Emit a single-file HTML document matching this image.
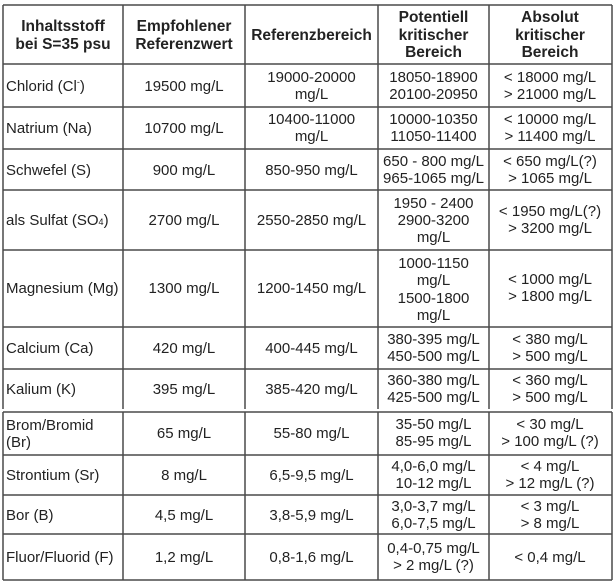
<!DOCTYPE html>
<html><head><meta charset="utf-8"><style>
html,body{margin:0;padding:0;background:#fff;}
svg{display:block;}
text{font-family:"Liberation Sans",Arial,sans-serif;font-size:15px;fill:#222;}
.h{font-weight:bold;font-size:15.5px;}
line{stroke:#4a4a4a;stroke-width:1.5;}
</style></head><body>
<svg width="615" height="584" viewBox="0 0 615 584" xmlns="http://www.w3.org/2000/svg">
<g>
<line x1="3" y1="5" x2="612" y2="5"/>
<line x1="3" y1="64" x2="612" y2="64"/>
<line x1="3" y1="107" x2="612" y2="107"/>
<line x1="3" y1="149" x2="612" y2="149"/>
<line x1="3" y1="190" x2="612" y2="190"/>
<line x1="3" y1="250" x2="612" y2="250"/>
<line x1="3" y1="327" x2="612" y2="327"/>
<line x1="3" y1="369" x2="612" y2="369"/>
<line x1="3" y1="5" x2="3" y2="409"/>
<line x1="123" y1="5" x2="123" y2="409"/>
<line x1="245" y1="5" x2="245" y2="409"/>
<line x1="378" y1="5" x2="378" y2="409"/>
<line x1="489" y1="5" x2="489" y2="409"/>
<line x1="612" y1="5" x2="612" y2="409"/>
</g>
<g>
<line x1="3" y1="412" x2="612" y2="412"/>
<line x1="3" y1="455" x2="612" y2="455"/>
<line x1="3" y1="495" x2="612" y2="495"/>
<line x1="3" y1="534" x2="612" y2="534"/>
<line x1="3" y1="580" x2="612" y2="580"/>
<line x1="3" y1="412" x2="3" y2="580"/>
<line x1="123" y1="412" x2="123" y2="580"/>
<line x1="245" y1="412" x2="245" y2="580"/>
<line x1="378" y1="412" x2="378" y2="580"/>
<line x1="489" y1="412" x2="489" y2="580"/>
<line x1="612" y1="412" x2="612" y2="580"/>
</g>
<g text-anchor="middle">
<text class="h" x="63" y="31">Inhaltsstoff</text>
<text class="h" x="63" y="49">bei S=35 psu</text>
<text class="h" x="184" y="31">Empfohlener</text>
<text class="h" x="184" y="49">Referenzwert</text>
<text class="h" x="311.5" y="40">Referenzbereich</text>
<text class="h" x="433.5" y="22">Potentiell</text>
<text class="h" x="433.5" y="40">kritischer</text>
<text class="h" x="433.5" y="57">Bereich</text>
<text class="h" x="550" y="22">Absolut</text>
<text class="h" x="550" y="40">kritischer</text>
<text class="h" x="550" y="57">Bereich</text>
</g>
<g>
<text x="6" y="91">Chlorid (Cl<tspan font-size="9" dy="-6">-</tspan><tspan dy="6">)</tspan></text>
<text x="6" y="133">Natrium (Na)</text>
<text x="6" y="175">Schwefel (S)</text>
<text x="6" y="225">als Sulfat (SO<tspan font-size="9">4</tspan>)</text>
<text x="6" y="293">Magnesium (Mg)</text>
<text x="6" y="353">Calcium (Ca)</text>
<text x="6" y="394">Kalium (K)</text>
<text x="6" y="430">Brom/Bromid</text>
<text x="6" y="447">(Br)</text>
<text x="6" y="480">Strontium (Sr)</text>
<text x="6" y="520">Bor (B)</text>
<text x="6" y="562">Fluor/Fluorid (F)</text>
</g>
<g text-anchor="middle">
<text x="184" y="91">19500 mg/L</text>
<text x="184" y="133">10700 mg/L</text>
<text x="184" y="175">900 mg/L</text>
<text x="184" y="225">2700 mg/L</text>
<text x="184" y="293">1300 mg/L</text>
<text x="184" y="353">420 mg/L</text>
<text x="184" y="394">395 mg/L</text>
<text x="184" y="438">65 mg/L</text>
<text x="184" y="480">8 mg/L</text>
<text x="184" y="520">4,5 mg/L</text>
<text x="184" y="562">1,2 mg/L</text>
<text x="311.5" y="82">19000-20000</text>
<text x="311.5" y="99">mg/L</text>
<text x="311.5" y="124">10400-11000</text>
<text x="311.5" y="141">mg/L</text>
<text x="311.5" y="175">850-950 mg/L</text>
<text x="311.5" y="225">2550-2850 mg/L</text>
<text x="311.5" y="293">1200-1450 mg/L</text>
<text x="311.5" y="353">400-445 mg/L</text>
<text x="311.5" y="394">385-420 mg/L</text>
<text x="311.5" y="438">55-80 mg/L</text>
<text x="311.5" y="480">6,5-9,5 mg/L</text>
<text x="311.5" y="520">3,8-5,9 mg/L</text>
<text x="311.5" y="562">0,8-1,6 mg/L</text>
<text x="433.5" y="82">18050-18900</text>
<text x="433.5" y="99">20100-20950</text>
<text x="433.5" y="124">10000-10350</text>
<text x="433.5" y="141">11050-11400</text>
<text x="433.5" y="166">650 - 800 mg/L</text>
<text x="433.5" y="183">965-1065 mg/L</text>
<text x="433.5" y="208">1950 - 2400</text>
<text x="433.5" y="225">2900-3200</text>
<text x="433.5" y="242">mg/L</text>
<text x="433.5" y="268">1000-1150</text>
<text x="433.5" y="285">mg/L</text>
<text x="433.5" y="303">1500-1800</text>
<text x="433.5" y="320">mg/L</text>
<text x="433.5" y="344">380-395 mg/L</text>
<text x="433.5" y="361">450-500 mg/L</text>
<text x="433.5" y="385">360-380 mg/L</text>
<text x="433.5" y="402">425-500 mg/L</text>
<text x="433.5" y="429">35-50 mg/L</text>
<text x="433.5" y="446">85-95 mg/L</text>
<text x="433.5" y="471">4,0-6,0 mg/L</text>
<text x="433.5" y="488">10-12 mg/L</text>
<text x="433.5" y="511">3,0-3,7 mg/L</text>
<text x="433.5" y="528">6,0-7,5 mg/L</text>
<text x="433.5" y="553">0,4-0,75 mg/L</text>
<text x="433.5" y="570">&gt; 2 mg/L (?)</text>
<text x="550" y="82">&lt; 18000 mg/L</text>
<text x="550" y="99">&gt; 21000 mg/L</text>
<text x="550" y="124">&lt; 10000 mg/L</text>
<text x="550" y="141">&gt; 11400 mg/L</text>
<text x="550" y="166">&lt; 650 mg/L(?)</text>
<text x="550" y="183">&gt; 1065 mg/L</text>
<text x="550" y="216">&lt; 1950 mg/L(?)</text>
<text x="550" y="233">&gt; 3200 mg/L</text>
<text x="550" y="284">&lt; 1000 mg/L</text>
<text x="550" y="301">&gt; 1800 mg/L</text>
<text x="550" y="344">&lt; 380 mg/L</text>
<text x="550" y="361">&gt; 500 mg/L</text>
<text x="550" y="385">&lt; 360 mg/L</text>
<text x="550" y="402">&gt; 500 mg/L</text>
<text x="550" y="429">&lt; 30 mg/L</text>
<text x="550" y="446">&gt; 100 mg/L (?)</text>
<text x="550" y="471">&lt; 4 mg/L</text>
<text x="550" y="488">&gt; 12 mg/L (?)</text>
<text x="550" y="511">&lt; 3 mg/L</text>
<text x="550" y="528">&gt; 8 mg/L</text>
<text x="550" y="562">&lt; 0,4 mg/L</text>
</g>
</svg>
</body></html>
